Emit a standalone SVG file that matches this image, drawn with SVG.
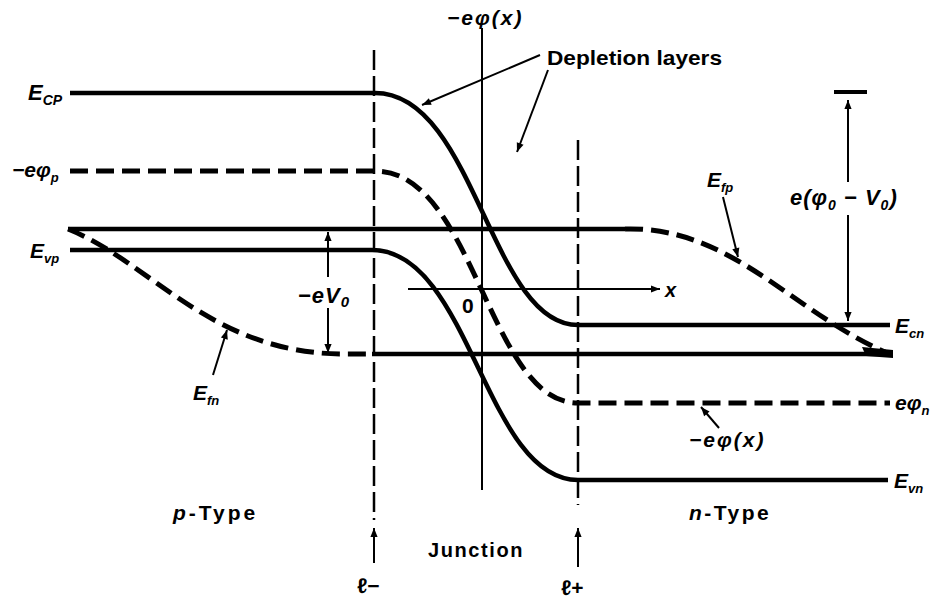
<svg xmlns="http://www.w3.org/2000/svg" width="932" height="603" viewBox="0 0 932 603">
<defs>
<marker id="ah" viewBox="0 0 10 10" refX="10" refY="5" markerWidth="10" markerHeight="9" markerUnits="userSpaceOnUse" orient="auto"><path d="M0,1 L10,5 L0,9 z" fill="#000"/></marker>
</defs>
<style>
.band{fill:none;stroke:#000;stroke-width:4.5}
.dash{fill:none;stroke:#000;stroke-width:5;stroke-dasharray:18 8}
.vdash{fill:none;stroke:#000;stroke-width:2.5;stroke-dasharray:20 6}
.thin{fill:none;stroke:#000;stroke-width:2}
.arr{fill:none;stroke:#000;stroke-width:2;marker-end:url(#ah)}
text{font-family:"Liberation Sans",Arial,sans-serif;font-weight:bold;fill:#000}
.m{font-style:italic}
</style>
<rect width="932" height="603" fill="#fff"/>
<g id="levels">
<path id="Ec" class="band" d="M70,93 H375 C475,93 490,325 578,325 H890"/>
<path id="phi" class="dash" d="M70,171 H375 C475,171 488,403 578,403 H890"/>
<path id="Ev" class="band" d="M70,250 H372 C470,250 485,480 578,480 H888"/>
<path id="Ef-upper" class="band" d="M68,229 H625"/>
<path id="Efp-curve" class="dash" d="M625,229 C730,226 790,310 885,352"/>
<path id="Efn-curve" class="dash" d="M68,229 C150,262 210,352 340,354 H368"/>
<path id="Ef-lower" class="band" d="M372,354 H890"/>
<path d="M862,347 L893,350 L893,358 L866,356 z" fill="#000"/>
</g>
<g id="boundaries">
<path class="vdash" d="M374,50 V520"/>
<path class="vdash" d="M578,140 V505"/>
</g>
<g id="axes">
<path class="thin" d="M482,28 V490"/>
<path class="arr" d="M408,289 H660"/>
</g>
<g id="connectors">
<path class="arr" d="M374,563 V528"/>
<path class="arr" d="M578,567 V528"/>
<path class="arr" d="M540,55 L422,105"/>
<path class="arr" d="M548,70 L517,152"/>
<path class="arr" d="M723,197 L738,257"/>
<path class="arr" d="M213,375 L227,330"/>
<path class="arr" d="M719,428 L701,407"/>
<path class="arr" d="M328,277 V232"/>
<path class="arr" d="M328,308 V353"/>
<path d="M834,92 H867" stroke="#000" stroke-width="4"/>
<path class="arr" d="M848,182 V100"/>
<path class="arr" d="M848,215 V321"/>
</g>
<g id="labels">
<text class="m" x="28" y="100" font-size="22">E<tspan font-size="14" dy="5">CP</tspan></text>
<text class="m" x="12" y="177" font-size="21">−eφ<tspan font-size="13" dy="5">p</tspan></text>
<text class="m" x="30" y="258" font-size="21">E<tspan font-size="13" dy="5">vp</tspan></text>
<text class="m" x="193" y="400" font-size="21">E<tspan font-size="13" dy="5">fn</tspan></text>
<text class="m" x="707" y="187" font-size="21">E<tspan font-size="13" dy="5">fp</tspan></text>
<text class="m" x="895" y="333" font-size="21">E<tspan font-size="13" dy="5">cn</tspan></text>
<text class="m" x="895" y="410" font-size="21">eφ<tspan font-size="13" dy="5">n</tspan></text>
<text class="m" x="894" y="488" font-size="21">E<tspan font-size="13" dy="5">vn</tspan></text>
<text class="m" x="447" y="25" font-size="21" letter-spacing="2">−eφ(x)</text>
<text x="547" y="65" font-size="21" textLength="175" lengthAdjust="spacingAndGlyphs">Depletion layers</text>
<text class="m" x="790" y="205" font-size="22" letter-spacing="1">e(φ<tspan font-size="14" dy="5">0</tspan><tspan dy="-5"> − V</tspan><tspan font-size="14" dy="5">0</tspan><tspan dy="-5">)</tspan></text>
<text class="m" x="298" y="303" font-size="22" letter-spacing="1">−eV<tspan font-size="15" dy="4">0</tspan></text>
<text x="462" y="313" font-size="21">0</text>
<text class="m" x="665" y="297" font-size="20">x</text>
<text class="m" x="689" y="447" font-size="21" letter-spacing="2">−eφ(x)</text>
<text x="173" y="520" font-size="21" letter-spacing="3"><tspan class="m">p</tspan>-Type</text>
<text x="689" y="520" font-size="21" letter-spacing="2.5"><tspan class="m">n</tspan>-Type</text>
<text x="428" y="557" font-size="20" letter-spacing="1.6">Junction</text>
<text x="357" y="593" font-size="21">ℓ−</text>
<text x="561" y="595" font-size="21">ℓ+</text>
</g>
</svg>
